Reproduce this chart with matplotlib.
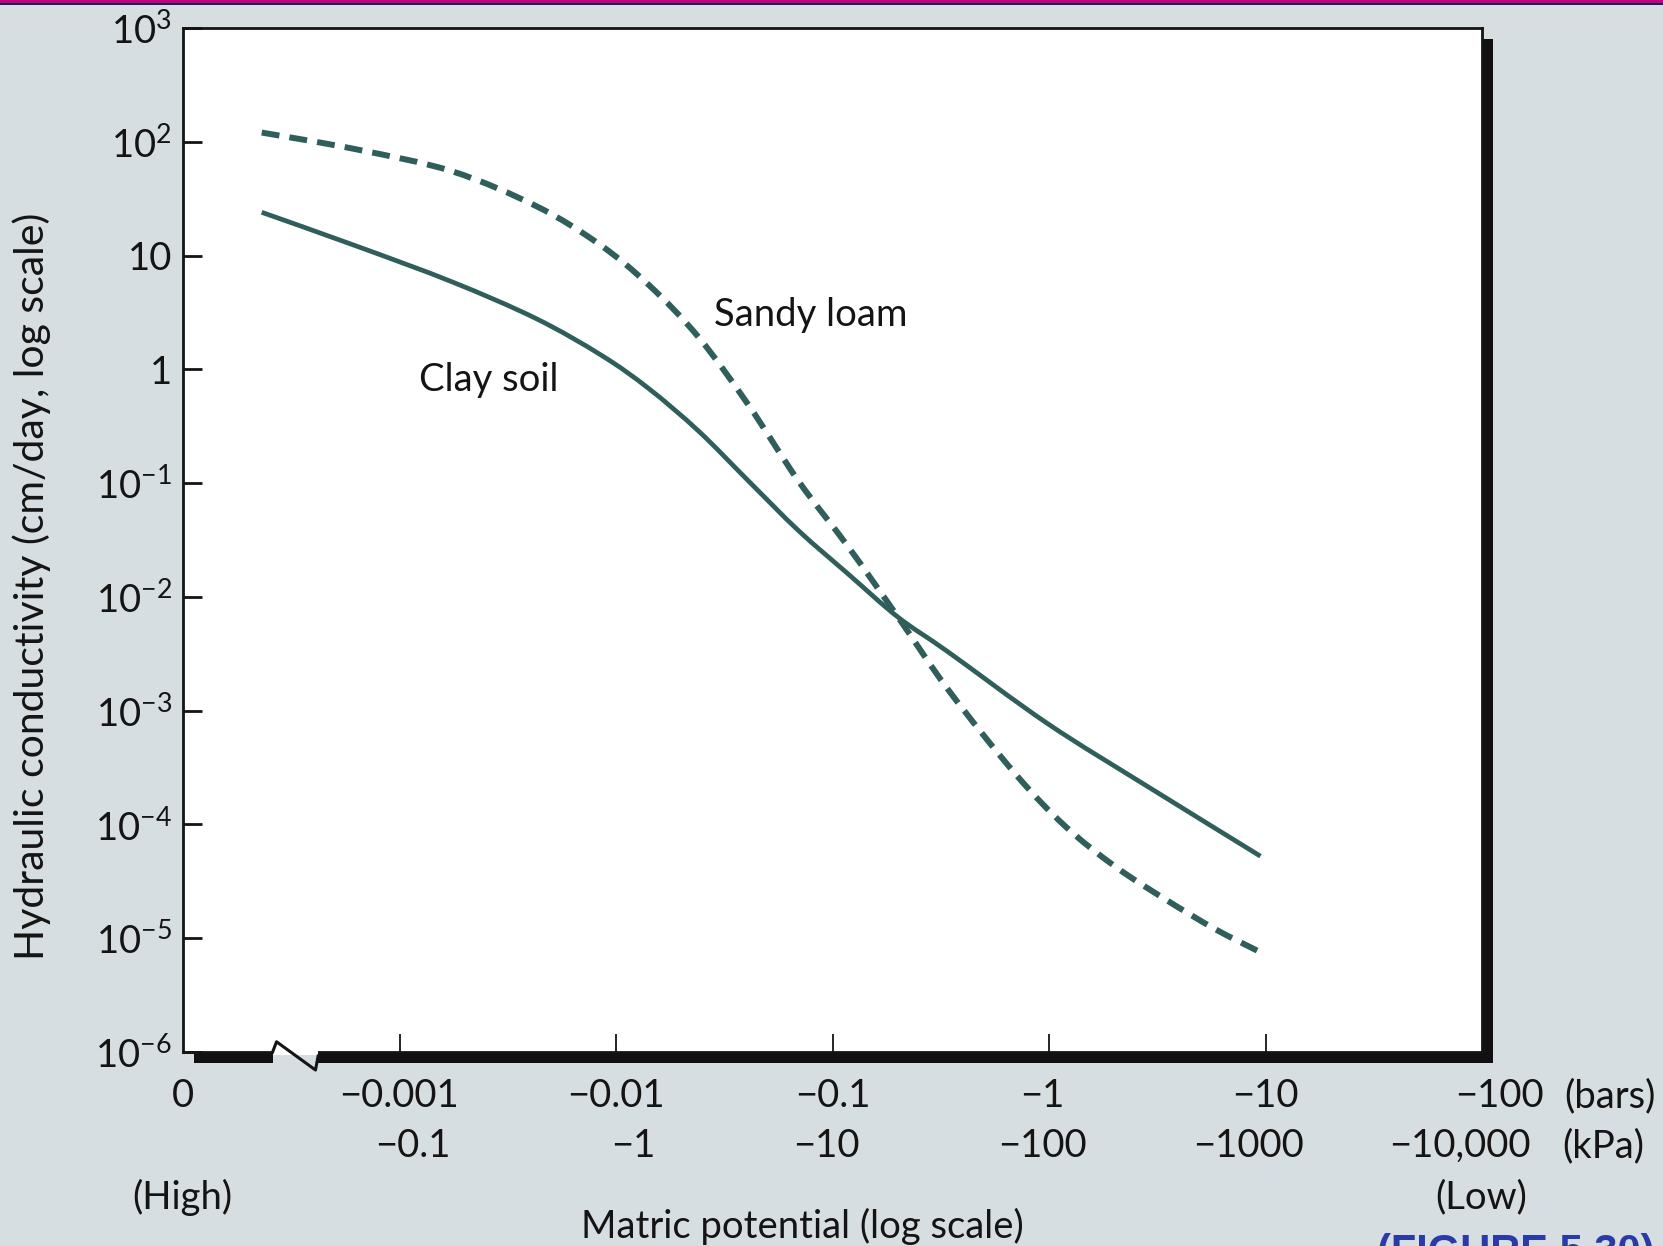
import numpy as np
import matplotlib
matplotlib.use("Agg")
import matplotlib.pyplot as plt
from matplotlib.patches import Rectangle, PathPatch
from matplotlib.path import Path
from matplotlib.lines import Line2D
import matplotlib.transforms as mtransforms

plt.rcParams["font.family"] = ["Lato", "DejaVu Sans"]
plt.rcParams["mathtext.fontset"] = "custom"
plt.rcParams["mathtext.rm"] = "Lato"
plt.rcParams["mathtext.it"] = "Lato:italic"
plt.rcParams["mathtext.bf"] = "Lato:bold"

# matric potential |psi| in bars, hydraulic conductivity in cm/day
clay_psi = [2.31e-4, 6.34e-4, 1.75e-3, 4.28e-3, 8.61e-3, 0.0142, 0.0241, 0.041,
            0.0697, 0.119, 0.201, 0.343, 0.989, 2.86, 9.48]
clay_k = [24.0, 12.1, 5.87, 2.79, 1.32, 0.675, 0.286, 0.104,
          0.0382, 0.0157, 6.62e-3, 3.27e-3, 7.66e-4, 2.15e-4, 5.26e-5]

sand_psi = [2.31e-4, 6.34e-4, 1.75e-3, 4.28e-3, 8.36e-3, 0.0142, 0.0241, 0.041,
            0.0697, 0.119, 0.201, 0.343, 0.697, 1.19, 2.01, 3.43, 5.82, 9.18]
sand_k = [120.5, 85.7, 55.0, 27.2, 12.6, 5.50, 1.91, 0.483,
          0.104, 0.0271, 6.62e-3, 1.52e-3, 2.80e-4, 9.62e-5, 4.30e-5, 2.21e-5,
          1.21e-5, 7.76e-6]

y_ticks = [1e3, 1e2, 1e1, 1, 1e-1, 1e-2, 1e-3, 1e-4, 1e-5, 1e-6]
y_labels = [r"$\mathregular{10^3}$", r"$\mathregular{10^2}$", "10", "1",
            r"$\mathregular{10^{-1}}$", r"$\mathregular{10^{-2}}$",
            r"$\mathregular{10^{-3}}$", r"$\mathregular{10^{-4}}$",
            r"$\mathregular{10^{-5}}$", r"$\mathregular{10^{-6}}$"]

x_ticks = [1e-3, 1e-2, 1e-1, 1, 10]
bar_pos = [1e-4, 1e-3, 1e-2, 1e-1, 1, 10, 100]
bar_labels = ["0", "\u22120.001", "\u22120.01", "\u22120.1", "\u22121", "\u221210", "\u2212100"]
kpa_pos = [1e-3, 1e-2, 1e-1, 1, 10, 100]
kpa_labels = ["\u22120.1", "\u22121", "\u221210", "\u2212100", "\u22121000", "\u221210,000"]

BG = "#d7dee1"
LINE = "#2f5e5b"
INK = "#141414"
FS = 27.5

W, H = 1663, 1246
fig = plt.figure(figsize=(W / 100, H / 100), dpi=100)
fig.patch.set_facecolor(BG)

# axes box in pixels: x 183..1482, y 28..1052 (from top)
L, R, T, B = 183, 1482, 28, 1052
ax = fig.add_axes([L / W, 1 - B / H, (R - L) / W, (B - T) / H])
ax.set_facecolor("white")

# drop shadow behind the box
sh = 11
fig.patches.append(Rectangle(((L + sh) / W, 1 - (B + sh) / H), (R - L) / W, (B - T) / H,
                             transform=fig.transFigure, facecolor="#111111",
                             edgecolor="none", zorder=-1))
# magenta strip at the very top
fig.patches.append(Rectangle((0, 1 - 3 / H), 1, 3 / H, transform=fig.transFigure,
                             facecolor="#c4007c", edgecolor="none", zorder=5))
fig.patches.append(Rectangle((0, 1 - 4.5 / H), 1, 1.5 / H, transform=fig.transFigure,
                             facecolor="#1c1f5a", edgecolor="none", zorder=5))


def smooth_path(xs, ys):
    # Catmull-Rom through the read points, as cubic Bezier segments in log space
    p = np.column_stack([np.log10(xs), np.log10(ys)])
    q = np.vstack([p[0], p, p[-1]])
    verts = [p[0]]
    codes = [Path.MOVETO]
    for i in range(1, len(q) - 2):
        c1 = q[i] + (q[i + 1] - q[i - 1]) / 6.0
        c2 = q[i + 1] - (q[i + 2] - q[i]) / 6.0
        verts += [c1, c2, q[i + 1]]
        codes += [Path.CURVE4] * 3
    return Path(10 ** np.array(verts), codes)


clay = PathPatch(smooth_path(clay_psi, clay_k), facecolor="none", edgecolor=LINE,
                 lw=3.4, capstyle="butt")
sand = PathPatch(smooth_path(sand_psi, sand_k), facecolor="none", edgecolor=LINE,
                 lw=4.3, linestyle=(0, (3.0, 1.7)), capstyle="butt")
ax.add_patch(clay)
ax.add_patch(sand)

ax.set_xscale("log")
ax.set_yscale("log")
ax.set_xlim(1e-4, 1e2)
ax.set_ylim(1e-6, 1e3)

ax.set_yticks(y_ticks)
ax.set_yticklabels(y_labels)
ax.yaxis.set_minor_locator(matplotlib.ticker.NullLocator())
ax.tick_params(axis="y", direction="in", length=14, width=2.0, color=INK,
               labelsize=FS, labelcolor=INK, pad=8)
ax.set_xticks(x_ticks)
ax.set_xticklabels([])
ax.xaxis.set_minor_locator(matplotlib.ticker.NullLocator())
ax.tick_params(axis="x", direction="in", length=13, width=1.3, color=INK)
for s in ax.spines.values():
    s.set_color(INK)
    s.set_linewidth(2.0)

# axis break near the origin
ax.add_patch(Rectangle((0.069, -0.03), 0.035, 0.04, transform=ax.transAxes,
                       facecolor="white", edgecolor="none", clip_on=False, zorder=4))
ax.add_patch(Rectangle((0.069, -0.03), 0.035, 0.0275, transform=ax.transAxes,
                       facecolor=BG, edgecolor="none", clip_on=False, zorder=4))
ax.add_line(Line2D([0.069, 0.072, 0.102, 0.104], [0.0, 0.010, -0.0176, -0.004],
                   transform=ax.transAxes, color=INK, lw=2.2, clip_on=False, zorder=5))

# bottom labels (bars row, kPa row)
xt = mtransforms.blended_transform_factory(ax.transData, fig.transFigure)
bar_shift = [0, 0, 0, 0, -0.03, 0, 0.08]
for p, lab, d in zip(bar_pos, bar_labels, bar_shift):
    fig.text(p * 10 ** d, 1 - 1096 / H, lab, transform=xt, ha="center", va="center",
             fontsize=FS, color=INK)
kpa_shift = [0.06, 0.08, -0.03, -0.03, -0.08, -0.1]
for p, lab, d in zip(kpa_pos, kpa_labels, kpa_shift):
    fig.text(p * 10 ** d, 1 - 1146 / H, lab, transform=xt, ha="center",
             va="center", fontsize=FS, color=INK)
fig.text(1564 / W, 1 - 1096 / H, "(bars)", ha="left", va="center", fontsize=FS, color=INK)
fig.text(1562 / W, 1 - 1146 / H, "(kPa)", ha="left", va="center", fontsize=FS, color=INK)
fig.text(182 / W, 1 - 1197 / H, "(High)", ha="center", va="center", fontsize=FS, color=INK)
fig.text(1481 / W, 1 - 1197 / H, "(Low)", ha="center", va="center", fontsize=FS, color=INK)
fig.text(802 / W, 1 - 1226 / H, "Matric potential (log scale)", ha="center", va="center",
         fontsize=FS, color=INK)

fig.text(32 / W, 1 - 586 / H, "Hydraulic conductivity (cm/day, log scale)", rotation=90,
         ha="center", va="center", fontsize=29.5, color=INK)

ax.text(1.236e-3, 0.64, "Clay soil", ha="left", va="baseline", fontsize=FS, color=INK)
ax.text(0.0283, 2.42, "Sandy loam", ha="left", va="baseline", fontsize=FS, color=INK)

fig.text(1377 / W, 1 - 1233 / H, "(FIGURE 5.30)", ha="left", va="top", fontsize=30,
         fontweight="bold", color="#2a3ba8", family=["Liberation Sans", "DejaVu Sans"])

fig.savefig("out.png", dpi=100, facecolor=BG)
